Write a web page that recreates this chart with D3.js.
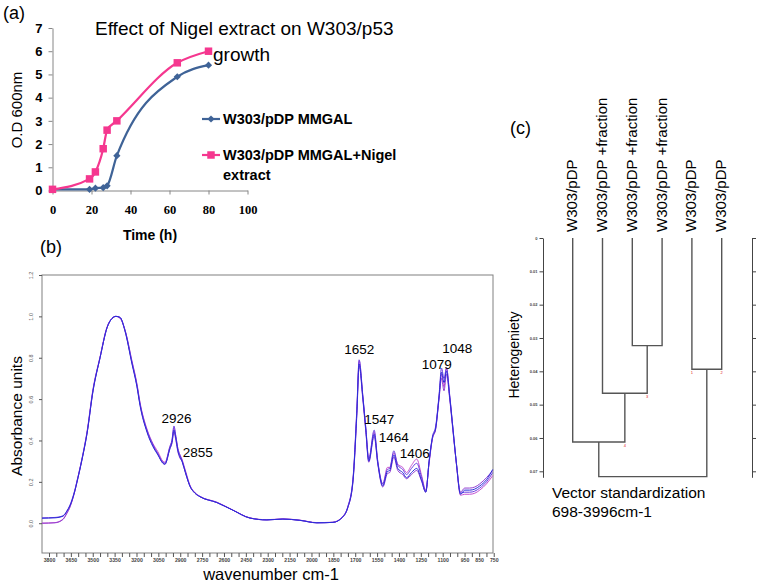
<!DOCTYPE html>
<html>
<head>
<meta charset="utf-8">
<script src="https://cdn.jsdelivr.net/npm/d3@7"></script>
<style>
  body { margin: 0; background: #fff; }
  svg { display: block; font-family: "Liberation Sans", Arial, sans-serif; }
</style>
</head>
<body>
<svg id="fig" width="762" height="584"></svg>
<script>
// ---------- (a) growth curve data ----------
const growthTime = [0, 19, 22, 26, 28, 33, 64, 80];
const odControl = [0.05, 0.05, 0.1, 0.12, 0.2, 1.5, 4.9, 5.4];
const odNigel = [0.05, 0.5, 0.8, 1.8, 2.6, 3.0, 5.5, 6.0];
const timeTicks = [0, 20, 40, 60, 80, 100];
const odTicks = [0, 1, 2, 3, 4, 5, 6, 7];

// ---------- (b) FTIR spectra ----------
const wn = [3848, 3759, 3704, 3677, 3656, 3629, 3601, 3567, 3540, 3498,
  3450, 3402, 3368, 3341, 3313, 3279, 3231, 3197, 3176, 3128,
  3087, 3053, 3019, 3005, 2971, 2957, 2943, 2930, 2916, 2902,
  2888, 2875, 2854, 2834, 2799, 2765, 2649, 2539, 2422, 2306,
  2196, 2080, 1963, 1853, 1785, 1751, 1716, 1689, 1673, 1648,
  1627, 1607, 1570, 1545, 1511, 1479, 1463, 1435, 1408, 1374,
  1348, 1314, 1278, 1246, 1216, 1193, 1170, 1148, 1125, 1108,
  1091, 1074, 1052, 1029, 1006, 978, 949, 915, 880, 846,
  800, 757];
const absBlue = [0.024, 0.026, 0.034, 0.058, 0.085, 0.14, 0.22, 0.33, 0.43, 0.64,
  0.80, 0.945, 0.99, 1.0, 0.995, 0.93, 0.77, 0.66, 0.57, 0.44,
  0.37, 0.33, 0.29, 0.285, 0.36, 0.39, 0.45, 0.41, 0.35, 0.32,
  0.30, 0.27, 0.22, 0.18, 0.145, 0.128, 0.10, 0.063, 0.025, 0.016,
  0.02, 0.014, 0.002, 0.004, 0.03, 0.075, 0.2, 0.53, 0.77, 0.61,
  0.45, 0.30, 0.43, 0.29, 0.18, 0.25, 0.255, 0.33, 0.265, 0.245,
  0.22, 0.245, 0.265, 0.21, 0.15, 0.30, 0.415, 0.46, 0.61, 0.73,
  0.68, 0.735, 0.61, 0.45, 0.29, 0.14, 0.16, 0.16, 0.165, 0.18,
  0.21, 0.26];
const absViolet = [0.026, 0.028, 0.036, 0.06, 0.088, 0.145, 0.225, 0.335, 0.435, 0.645,
  0.80, 0.945, 0.99, 1.0, 0.995, 0.935, 0.78, 0.67, 0.58, 0.45,
  0.38, 0.335, 0.295, 0.29, 0.37, 0.40, 0.47, 0.42, 0.36, 0.33,
  0.305, 0.275, 0.225, 0.182, 0.147, 0.13, 0.10, 0.063, 0.025, 0.016,
  0.02, 0.014, 0.002, 0.004, 0.032, 0.08, 0.21, 0.55, 0.79, 0.62,
  0.46, 0.31, 0.45, 0.30, 0.19, 0.26, 0.265, 0.35, 0.28, 0.26,
  0.235, 0.265, 0.29, 0.225, 0.155, 0.30, 0.42, 0.47, 0.62, 0.75,
  0.70, 0.75, 0.62, 0.455, 0.29, 0.145, 0.15, 0.15, 0.155, 0.17,
  0.20, 0.245];
const absMagenta = [0.0, 0.003, 0.02, 0.05, 0.08, 0.14, 0.225, 0.335, 0.44, 0.65,
  0.805, 0.95, 0.99, 1.0, 0.99, 0.935, 0.785, 0.675, 0.585, 0.455,
  0.385, 0.345, 0.30, 0.295, 0.37, 0.40, 0.46, 0.42, 0.36, 0.33,
  0.31, 0.28, 0.23, 0.185, 0.148, 0.13, 0.102, 0.064, 0.026, 0.017,
  0.021, 0.015, 0.003, 0.005, 0.033, 0.078, 0.205, 0.54, 0.785, 0.615,
  0.455, 0.31, 0.44, 0.295, 0.19, 0.27, 0.27, 0.34, 0.285, 0.27,
  0.245, 0.28, 0.31, 0.235, 0.16, 0.29, 0.41, 0.46, 0.61, 0.72,
  0.66, 0.75, 0.615, 0.45, 0.285, 0.135, 0.14, 0.14, 0.145, 0.16,
  0.19, 0.23];
const absPurple = [0.0, 0.002, 0.018, 0.048, 0.078, 0.138, 0.22, 0.33, 0.43, 0.64,
  0.80, 0.945, 0.99, 1.0, 0.995, 0.93, 0.775, 0.665, 0.575, 0.445,
  0.375, 0.335, 0.29, 0.285, 0.36, 0.385, 0.44, 0.40, 0.345, 0.315,
  0.30, 0.27, 0.22, 0.18, 0.145, 0.128, 0.10, 0.063, 0.025, 0.016,
  0.02, 0.014, 0.002, 0.004, 0.03, 0.074, 0.195, 0.52, 0.76, 0.60,
  0.44, 0.295, 0.42, 0.285, 0.175, 0.24, 0.245, 0.32, 0.255, 0.235,
  0.215, 0.235, 0.255, 0.205, 0.15, 0.30, 0.41, 0.455, 0.60, 0.70,
  0.64, 0.72, 0.60, 0.44, 0.29, 0.15, 0.17, 0.17, 0.175, 0.19,
  0.22, 0.255];
const wnLabels = [3800, 3650, 3500, 3350, 3200, 3050, 2900, 2750, 2600, 2450, 2300,
  2150, 2000, 1850, 1700, 1550, 1400, 1250, 1100, 950, 850, 750];
const absTicks = [0, 0.2, 0.4, 0.6, 0.8, 1.0, 1.2];
// peak annotations (text placed at wavenumber / absorbance)
const peakText = ["2926", "2855", "1652", "1547", "1464", "1406", "1079", "1048"];
const peakWn = [2926, 2779, 1672, 1535, 1435, 1291, 1141, 1000];
const peakAbs = [0.506, 0.342, 0.843, 0.501, 0.414, 0.337, 0.768, 0.845];

// ---------- (c) dendrogram ----------
const leafNames = ["W303/pDP", "W303/pDP +fraction", "W303/pDP +fraction",
  "W303/pDP +fraction", "W303/pDP", "W303/pDP"];
const mergeA = [-3, -5, -2, -1, 4];   // negative = leaf, positive = earlier merge
const mergeB = [-4, -6, 1, 3, 2];
const mergeH = [0.0323, 0.0394, 0.0466, 0.0612, 0.0716];
const hetTicks = [0, 0.01, 0.02, 0.03, 0.04, 0.05, 0.06, 0.07];
const markText = ["1", "2", "3", "4"];
const markMerge = [2, 2, 3, 4];
const markSide = ["a", "b", "b", "b"];

const svg = d3.select("#fig");

function styleAxis(g, col) {
  g.select(".domain").attr("stroke", col);
  g.selectAll(".tick line").attr("stroke", col);
}

// ================= panel (a) =================
const ax = d3.scaleLinear().domain([0, 100]).range([52.5, 247.5]);
const ay = d3.scaleLinear().domain([0, 7]).range([190.5, 28]);

svg.append("text").attr("x", 3).attr("y", 19).attr("font-size", 18).text("(a)");

svg.append("g")
  .attr("transform", `translate(0,${ay(0)})`)
  .call(d3.axisBottom(ax).tickValues(timeTicks).tickSize(4).tickPadding(11).tickSizeOuter(0)
    .tickFormat(d3.format("d")))
  .call(g => {
    styleAxis(g, "#868686");
    g.selectAll("text").attr("font-family", "Liberation Serif, serif")
      .attr("font-weight", "bold").attr("font-size", 12.5).attr("fill", "#000");
  });

svg.append("g")
  .attr("transform", `translate(${ax(0)},0)`)
  .call(d3.axisLeft(ay).tickValues(odTicks).tickSize(4).tickPadding(6).tickSizeOuter(0)
    .tickFormat(d3.format("d")))
  .call(g => {
    styleAxis(g, "#868686");
    g.selectAll("text").attr("font-weight", "bold").attr("font-size", 13).attr("fill", "#000");
  });

svg.append("text").attr("x", 150).attr("y", 240).attr("text-anchor", "middle")
  .attr("font-weight", "bold").attr("font-size", 14).text("Time (h)");
svg.append("text").attr("transform", "translate(22,110) rotate(-90)")
  .attr("text-anchor", "middle").attr("font-size", 15).text("O.D 600nm");
svg.append("text").attr("x", 95).attr("y", 35).attr("font-size", 19)
  .text("Effect of Nigel extract on W303/p53");
svg.append("text").attr("x", 213).attr("y", 61).attr("font-size", 19).text("growth");

const growthLine = d3.line().x(d => ax(d[0])).y(d => ay(d[1])).curve(d3.curveMonotoneX);
const ctrl = growthTime.map((t, i) => [t, odControl[i]]);
const nig = growthTime.map((t, i) => [t, odNigel[i]]);
const blueA = "#3f6397", pinkA = "#f5378f";
const diamond = d3.symbol().type(d3.symbolSquare).size(26);
const square = d3.symbol().type(d3.symbolSquare).size(56);

svg.append("path").attr("d", growthLine(ctrl)).attr("fill", "none")
  .attr("stroke", blueA).attr("stroke-width", 2.2);
svg.append("g").selectAll("path").data(ctrl).join("path")
  .attr("d", diamond).attr("fill", blueA)
  .attr("transform", d => `translate(${ax(d[0])},${ay(d[1])}) rotate(45)`);
svg.append("path").attr("d", growthLine(nig)).attr("fill", "none")
  .attr("stroke", pinkA).attr("stroke-width", 2.2);
svg.append("g").selectAll("path").data(nig).join("path")
  .attr("d", square).attr("fill", pinkA)
  .attr("transform", d => `translate(${ax(d[0])},${ay(d[1])})`);

// legend
const leg = svg.append("g").attr("font-weight", "bold").attr("font-size", 14.5);
leg.append("line").attr("x1", 202).attr("x2", 220).attr("y1", 119).attr("y2", 119)
  .attr("stroke", blueA).attr("stroke-width", 2.2);
leg.append("path").attr("d", diamond).attr("fill", blueA).attr("transform", "translate(211,119) rotate(45)");
leg.append("text").attr("x", 223).attr("y", 124).text("W303/pDP MMGAL");
leg.append("line").attr("x1", 202).attr("x2", 220).attr("y1", 155).attr("y2", 155)
  .attr("stroke", pinkA).attr("stroke-width", 2.2);
leg.append("path").attr("d", square).attr("fill", pinkA).attr("transform", "translate(211,155)");
leg.append("text").attr("x", 223).attr("y", 160).text("W303/pDP MMGAL+Nigel");
leg.append("text").attr("x", 223).attr("y", 180).text("extract");

// ================= panel (b) =================
const bx = d3.scaleLinear().domain([3848, 755]).range([42, 493]);
const by = d3.scaleLinear().domain([-0.144, 1.2]).range([553, 275]);

svg.append("text").attr("x", 40).attr("y", 253).attr("font-size", 18).text("(b)");

svg.append("rect").attr("x", 42).attr("y", 275).attr("width", 451).attr("height", 278)
  .attr("fill", "none").attr("stroke", "#808080");

const labelSet = new Set(wnLabels);
svg.append("g")
  .attr("transform", "translate(0,553)")
  .call(d3.axisBottom(bx).tickValues(d3.range(3800, 749, -50)).tickSize(4).tickPadding(1.5)
    .tickFormat(d => labelSet.has(d) ? d : ""))
  .call(g => {
    g.select(".domain").remove();
    g.selectAll(".tick line").attr("stroke", "#555");
    g.selectAll("text").filter(function () { return this.textContent === ""; }).remove();
    g.selectAll("text").attr("font-size", 5.2).attr("font-weight", "bold").attr("fill", "#444");
  });

svg.append("g")
  .attr("transform", "translate(42,0)")
  .call(d3.axisLeft(by).tickValues(absTicks).tickSize(3).tickFormat(d3.format(".1f")))
  .call(g => {
    g.select(".domain").remove();
    g.selectAll(".tick line").attr("stroke", "#555");
    g.selectAll("text").attr("x", null).attr("dy", null).attr("text-anchor", "middle")
      .attr("transform", "translate(-9,0) rotate(-90)")
      .attr("font-size", 5.5).attr("fill", "#555");
  });

const specLine = d3.line().x(d => bx(d[0])).y(d => by(d[1])).curve(d3.curveMonotoneX);
const spectra = [
  { vals: absMagenta, color: "#c650cf" },
  { vals: absPurple, color: "#9440d2" },
  { vals: absViolet, color: "#6a3fe2" },
  { vals: absBlue, color: "#2a2ad8" }
];
svg.append("g").selectAll("path").data(spectra).join("path")
  .attr("d", s => specLine(wn.map((w, i) => [w, s.vals[i]])))
  .attr("fill", "none").attr("stroke", s => s.color).attr("stroke-width", 1);

svg.append("g").selectAll("text").data(peakText).join("text")
  .attr("x", (d, i) => bx(peakWn[i])).attr("y", (d, i) => by(peakAbs[i]))
  .attr("dy", "0.36em").attr("text-anchor", "middle").attr("font-size", 13.5)
  .text(d => d);

svg.append("text").attr("x", 271).attr("y", 580.3).attr("text-anchor", "middle")
  .attr("font-size", 16.5).text("wavenumber cm-1");
svg.append("text").attr("transform", "translate(22,416) rotate(-90)")
  .attr("text-anchor", "middle").attr("font-size", 15.5).text("Absorbance units");

// ================= panel (c) =================
const cx = d3.scalePoint().domain(d3.range(leafNames.length)).range([572.7, 721.7]);
const cy = d3.scaleLinear().domain([0, 0.0718]).range([238, 477.3]);

svg.append("text").attr("x", 510).attr("y", 134).attr("font-size", 18).text("(c)");

svg.append("g")
  .attr("transform", "translate(543,0)")
  .call(d3.axisLeft(cy).tickValues(hetTicks).tickSize(3.5).tickPadding(2).tickSizeOuter(0)
    .tickFormat(d => d === 0 ? "0" : d.toFixed(2)))
  .call(g => {
    styleAxis(g, "#444");
    g.selectAll("text").attr("font-size", 4).attr("font-weight", "bold").attr("fill", "#444");
  });
svg.append("g")
  .attr("transform", "translate(752,0)")
  .call(d3.axisRight(cy).tickValues(hetTicks).tickSize(4).tickFormat("").tickSizeOuter(0))
  .call(g => {
    styleAxis(g, "#444");
    g.selectAll("text").remove();
  });

svg.append("text").attr("transform", "translate(519,355) rotate(-90)")
  .attr("text-anchor", "middle").attr("font-size", 14).text("Heterogeniety");

// node positions
const nodes = [];
function pos(id) {
  return id < 0 ? { x: cx(-id - 1), h: 0 } : nodes[id - 1];
}
mergeA.forEach((a, k) => {
  const pa = pos(a), pb = pos(mergeB[k]);
  nodes.push({ x: (pa.x + pb.x) / 2, h: mergeH[k], a: pa, b: pb });
});
const dg = svg.append("g").attr("stroke", "#555").attr("stroke-width", 1.4).attr("fill", "none");
nodes.forEach(n => {
  dg.append("path").attr("d",
    `M${n.a.x},${cy(n.a.h)}V${cy(n.h)}H${n.b.x}V${cy(n.b.h)}`);
});

svg.append("g").selectAll("text").data(leafNames).join("text")
  .attr("transform", (d, i) => `translate(${cx(i) + 4.5},232) rotate(-90)`)
  .attr("font-size", 15).text(d => d);

svg.append("g").selectAll("text").data(markText).join("text")
  .attr("x", (d, i) => nodes[markMerge[i] - 1][markSide[i]].x)
  .attr("y", (d, i) => cy(mergeH[markMerge[i] - 1]) + 5)
  .attr("text-anchor", "middle").attr("font-size", 4).attr("fill", "#e02020")
  .text(d => d);

svg.append("text").attr("x", 552).attr("y", 498).attr("font-size", 15.5).text("Vector standardization");
svg.append("text").attr("x", 552).attr("y", 517).attr("font-size", 15.5).text("698-3996cm-1");
</script>
</body>
</html>
